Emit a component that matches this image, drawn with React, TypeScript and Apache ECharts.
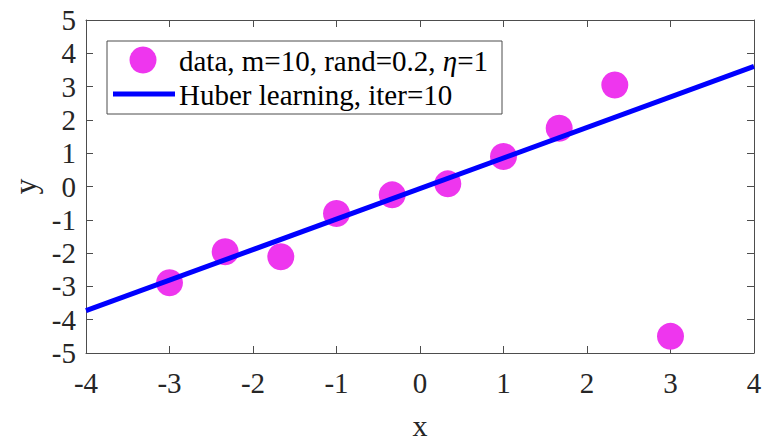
import React, { useEffect, useRef } from "react";
import * as echarts from "echarts";

// Sample points (x = linspace(-3, 3, 10)) with one outlier at x = 3
const xData = [-3, -2.333, -1.667, -1, -0.333, 0.333, 1, 1.667, 2.333, 3];
const yData = [-2.89, -1.96, -2.11, -0.81, -0.25, 0.08, 0.9, 1.75, 3.05, -4.5];

// Fitted line evaluated at the axis ends
const fitX = [-4, 4];
const fitY = [-3.73, 3.61];

const legendLabels = ["data, m=10, rand=0.2, ", "Huber learning, iter=10"];

const FONT = "'Liberation Serif', 'Times New Roman', serif";
const AXIS_COLOR = "#4d4d4d";
const LABEL_COLOR = "#262626";
const DOT_COLOR = "#EE36EE";
const LINE_COLOR = "#0000FF";

export default function App() {
  const ref = useRef<HTMLDivElement>(null);

  useEffect(() => {
    if (!ref.current) return;
    const chart = echarts.init(ref.current, null, { renderer: "svg" });

    const axisCommon = {
      type: "value" as const,
      interval: 1,
      axisLine: { show: true, onZero: false, lineStyle: { color: AXIS_COLOR, width: 1 } },
      axisTick: { show: true, inside: true, length: 7, lineStyle: { color: AXIS_COLOR } },
      splitLine: { show: false },
    };

    chart.setOption({
      animation: false,
      backgroundColor: "#ffffff",
      grid: {
        left: 86,
        right: 11,
        top: 20,
        bottom: 88,
        containLabel: false,
        outerBoundsMode: "none",
      },
      xAxis: [
        {
          ...axisCommon,
          min: -4,
          max: 4,
          position: "bottom",
          name: "x",
          nameLocation: "middle",
          nameGap: 57,
          nameTextStyle: { fontFamily: FONT, fontSize: 30, lineHeight: 30, color: LABEL_COLOR },
          axisLabel: { fontFamily: FONT, fontSize: 29, color: LABEL_COLOR, margin: 15 },
        },
        {
          ...axisCommon,
          min: -4,
          max: 4,
          position: "top",
          axisLabel: { show: false },
        },
      ],
      yAxis: [
        {
          ...axisCommon,
          min: -5,
          max: 5,
          position: "left",
          name: "y",
          nameLocation: "middle",
          nameGap: 44,
          nameTextStyle: { fontFamily: FONT, fontSize: 32, color: LABEL_COLOR },
          axisLabel: { fontFamily: FONT, fontSize: 29, color: LABEL_COLOR, margin: 10 },
        },
        {
          ...axisCommon,
          min: -5,
          max: 5,
          position: "right",
          axisLabel: { show: false },
        },
      ],
      series: [
        {
          type: "scatter",
          name: "data",
          data: xData.map((x, i) => [x, yData[i]]),
          symbol: "circle",
          symbolSize: 27,
          itemStyle: { color: DOT_COLOR, opacity: 1 },
          z: 2,
        },
        {
          type: "line",
          name: "Huber learning",
          data: fitX.map((x, i) => [x, fitY[i]]),
          showSymbol: false,
          lineStyle: { color: LINE_COLOR, width: 5 },
          z: 3,
        },
      ],
      graphic: [
        {
          type: "rect",
          shape: { x: 107, y: 41, width: 395, height: 73 },
          style: { fill: "#ffffff", stroke: AXIS_COLOR, lineWidth: 1 },
          z: 10,
        },
        {
          type: "circle",
          shape: { cx: 143, cy: 60, r: 13.5 },
          style: { fill: DOT_COLOR },
          z: 11,
        },
        {
          type: "line",
          shape: { x1: 113, y1: 94, x2: 175, y2: 94 },
          style: { stroke: LINE_COLOR, lineWidth: 5 },
          z: 11,
        },
        {
          type: "text",
          x: 179,
          y: 61,
          style: {
            text: `{a|${legendLabels[0]}}{i|η}{a|=1}`,
            verticalAlign: "middle",
            rich: {
              a: { fontFamily: FONT, fontSize: 29, fill: "#000000" },
              i: { fontFamily: FONT, fontSize: 29, fontStyle: "italic", fill: "#000000" },
            },
          },
          z: 11,
        },
        {
          type: "text",
          x: 179,
          y: 95,
          style: {
            text: legendLabels[1],
            verticalAlign: "middle",
            fontFamily: FONT,
            fontSize: 29,
            fill: "#000000",
          },
          z: 11,
        },
      ],
    });

    return () => chart.dispose();
  }, []);

  return (
    <div
      ref={ref}
      style={{ position: "fixed", left: 0, top: 0, width: 765, height: 441 }}
    />
  );
}
